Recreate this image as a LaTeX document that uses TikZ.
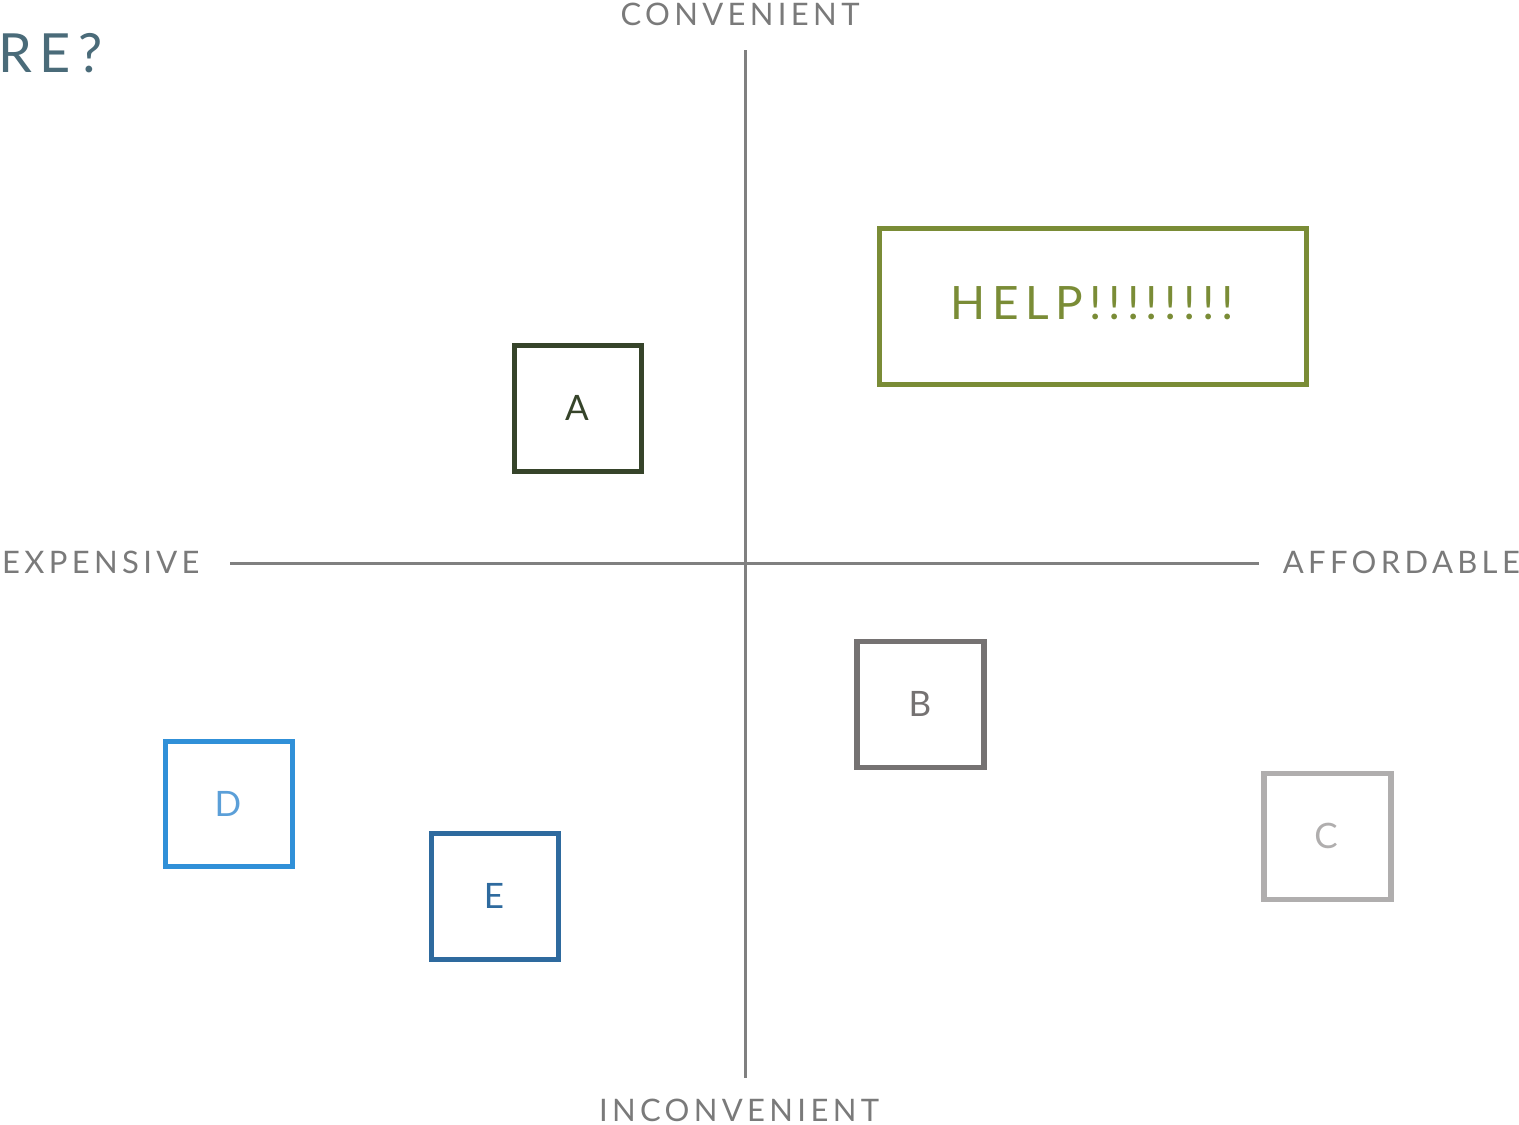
\documentclass[tikz,border=0pt]{standalone}
\usepackage{fontspec}
\setmainfont{Lato}
\newfontfamily\spaced[LetterSpace=14]{Lato}
\definecolor{axisgray}{HTML}{808080}
\definecolor{labgray}{HTML}{7A7A7A}
\definecolor{titleblue}{HTML}{4A6B79}
\definecolor{boxA}{HTML}{36442A}
\definecolor{helpgreen}{HTML}{7A8C36}
\definecolor{boxB}{HTML}{757272}
\definecolor{boxC}{HTML}{B0AEAE}
\definecolor{boxD}{HTML}{3090D8}
\definecolor{textD}{HTML}{5B9FD8}
\definecolor{boxE}{HTML}{2E6A9E}
\tikzset{
  axisline/.style={draw=axisgray, line width=3pt},
  axislabel/.style={text=labgray, inner sep=0pt, font=\spaced\fontsize{31}{31}\selectfont},
  sqbox/.style={draw, line width=5.6pt, minimum width=127pt, minimum height=126pt, inner sep=0pt},
  boxlabel/.style={inner sep=0pt, font=\fontsize{35}{35}\selectfont}
}
\begin{document}
\begin{tikzpicture}[x=1pt,y=-1pt]
\useasboundingbox (0,0) rectangle (1519,1125);
% axes
\coordinate (top) at (745,50);
\coordinate (bot) at (745,1078);
\coordinate (lft) at (230,563);
\coordinate (rgt) at (1259,563);
\draw[axisline] (top) -- (bot);
\draw[axisline] (lft) -- (rgt);
% axis labels
\node[axislabel] (conv) at (740,14) {CONVENIENT};
\node[axislabel] (inconv) at (739,1110) {INCONVENIENT};
\node[axislabel, anchor=west] (exp) at (2,562) {EXPENSIVE};
\node[axislabel, anchor=east] (aff) at (1520,562) {AFFORDABLE};
% title fragment
\node[anchor=west, inner sep=0pt, text=titleblue, font=\spaced\fontsize{54}{54}\selectfont] (title) at (-2,53) {RE?};
% boxes
\node[sqbox, draw=boxA] (A) at (578,408.5) {};
\node[boxlabel, text=boxA] (Alab) at (577,408) {A};
\node[sqbox, draw=helpgreen, minimum width=427pt, minimum height=156pt] (help) at (1093,306.5) {};
\node[inner sep=0pt, text=helpgreen, font=\spaced\fontsize{46}{46}\selectfont] (helplab) at (1092,303) {HELP!!!!!!!!};
\node[sqbox, draw=boxB] (B) at (920.5,704.5) {};
\node[boxlabel, text=boxB] (Blab) at (920,704) {B};
\node[sqbox, draw=boxC] (C) at (1327.5,836.5) {};
\node[boxlabel, text=boxC] (Clab) at (1326,836) {C};
\node[sqbox, draw=boxD, minimum height=125pt] (D) at (229,804) {};
\node[boxlabel, text=textD] (Dlab) at (228,804) {D};
\node[sqbox, draw=boxE] (E) at (495,896.5) {};
\node[boxlabel, text=boxE] (Elab) at (494,896) {E};
\end{tikzpicture}
\end{document}
